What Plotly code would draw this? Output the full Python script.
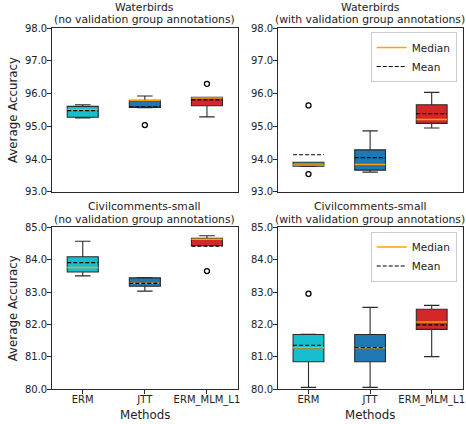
import plotly.graph_objects as go

# ---------------- data ----------------
methods = ["ERM", "JTT", "ERM_MLM_L1"]
positions = [1, 2, 3]
box_colors = ["#17becf", "#1f77b4", "#d62728"]

# Waterbirds (no validation group annotations)
wb_nv_q1 = [95.28, 95.58, 95.63]
wb_nv_med = [95.51, 95.79, 95.87]
wb_nv_q3 = [95.61, 95.80, 95.89]
wb_nv_lo = [95.26, 95.57, 95.29]
wb_nv_hi = [95.66, 95.93, 95.89]
wb_nv_mean = [95.48, 95.60, 95.81]
wb_nv_out_x = [2, 3]
wb_nv_out_y = [95.04, 96.30]

# Waterbirds (with validation group annotations)
wb_v_q1 = [93.78, 93.66, 95.09]
wb_v_med = [93.82, 93.83, 95.21]
wb_v_q3 = [93.90, 94.28, 95.66]
wb_v_lo = [93.77, 93.60, 94.95]
wb_v_hi = [93.90, 94.86, 96.04]
wb_v_mean = [94.13, 94.04, 95.39]
wb_v_out_x = [1, 1]
wb_v_out_y = [95.64, 93.54]

# Civilcomments-small (no validation group annotations)
cc_nv_q1 = [83.62, 83.18, 84.43]
cc_nv_med = [83.76, 83.27, 84.63]
cc_nv_q3 = [84.09, 83.44, 84.66]
cc_nv_lo = [83.50, 83.03, 84.43]
cc_nv_hi = [84.57, 83.45, 84.74]
cc_nv_mean = [83.91, 83.27, 84.42]
cc_nv_out_x = [3]
cc_nv_out_y = [83.65]

# Civilcomments-small (with validation group annotations)
cc_v_q1 = [80.85, 80.85, 81.85]
cc_v_med = [81.28, 81.28, 82.08]
cc_v_q3 = [81.69, 81.69, 82.47]
cc_v_lo = [80.06, 80.06, 81.01]
cc_v_hi = [81.70, 82.53, 82.59]
cc_v_mean = [81.36, 81.29, 81.99]
cc_v_out_x = [1]
cc_v_out_y = [82.95]

title_line1 = ["Waterbirds", "Waterbirds", "Civilcomments-small", "Civilcomments-small"]
title_line2 = [
    "(no validation group annotations)",
    "(with validation group annotations)",
    "(no validation group annotations)",
    "(with validation group annotations)",
]
wb_ticks = [93.0, 94.0, 95.0, 96.0, 97.0, 98.0]
cc_ticks = [80.0, 81.0, 82.0, 83.0, 84.0, 85.0]

# ---------------- figure ----------------
W, H = 466, 424
FONT = "DejaVu Sans"
TXT = "#222222"
EDGE = "#2a2a2a"
BOX_W = 0.5

panels = [
    dict(q1=wb_nv_q1, med=wb_nv_med, q3=wb_nv_q3, lo=wb_nv_lo, hi=wb_nv_hi, mean=wb_nv_mean,
         ox=wb_nv_out_x, oy=wb_nv_out_y, legend=None),
    dict(q1=wb_v_q1, med=wb_v_med, q3=wb_v_q3, lo=wb_v_lo, hi=wb_v_hi, mean=wb_v_mean,
         ox=wb_v_out_x, oy=wb_v_out_y, legend="legend"),
    dict(q1=cc_nv_q1, med=cc_nv_med, q3=cc_nv_q3, lo=cc_nv_lo, hi=cc_nv_hi, mean=cc_nv_mean,
         ox=cc_nv_out_x, oy=cc_nv_out_y, legend=None),
    dict(q1=cc_v_q1, med=cc_v_med, q3=cc_v_q3, lo=cc_v_lo, hi=cc_v_hi, mean=cc_v_mean,
         ox=cc_v_out_x, oy=cc_v_out_y, legend="legend2"),
]

# domains in paper fractions (measured in px)
xdoms = [[51.7 / W, 238.0 / W], [277.7 / W, 462.5 / W]]
ydoms = [[1 - 191.7 / H, 1 - 28.3 / H], [1 - 389.3 / H, 1 - 227.3 / H]]

fig = go.Figure()


def seg_xy(vals):
    xs, ys = [], []
    for p, v in zip(positions, vals):
        xs += [p - BOX_W / 2, p + BOX_W / 2, None]
        ys += [v, v, None]
    return xs, ys


for i, pn in enumerate(panels):
    xa = "x" if i == 0 else f"x{i+1}"
    ya = "y" if i == 0 else f"y{i+1}"
    for j, p in enumerate(positions):
        fig.add_trace(go.Box(
            x=[p], q1=[pn["q1"][j]], median=[pn["med"][j]], q3=[pn["q3"][j]],
            lowerfence=[pn["lo"][j]], upperfence=[pn["hi"][j]],
            width=BOX_W, whiskerwidth=0.5, boxpoints=False,
            fillcolor=box_colors[j], line=dict(color=EDGE, width=1.1),
            showlegend=False, hoverinfo="skip", xaxis=xa, yaxis=ya,
        ))
    mx, my = seg_xy(pn["med"])
    fig.add_trace(go.Scatter(
        x=mx, y=my, mode="lines", line=dict(color="orange", width=1.5),
        name="Median", showlegend=pn["legend"] is not None,
        legend=pn["legend"] or "legend", xaxis=xa, yaxis=ya, hoverinfo="skip",
    ))
    ex, ey = seg_xy(pn["mean"])
    fig.add_trace(go.Scatter(
        x=ex, y=ey, mode="lines", line=dict(color="black", width=1.2, dash="4px,2px"),
        name="Mean", showlegend=pn["legend"] is not None,
        legend=pn["legend"] or "legend", xaxis=xa, yaxis=ya, hoverinfo="skip",
    ))
    fig.add_trace(go.Scatter(
        x=pn["ox"], y=pn["oy"], mode="markers",
        marker=dict(symbol="circle-open", size=5, color="black", line=dict(width=1.3)),
        showlegend=False, xaxis=xa, yaxis=ya, hoverinfo="skip",
    ))

axis_common = dict(showline=True, linecolor=EDGE, linewidth=1, mirror=True,
                   showgrid=False, zeroline=False, automargin=False,
                   tickfont=dict(family=FONT, size=10, color=TXT))

layout = {}
for i in range(4):
    row, col = divmod(i, 2)
    xk = "xaxis" if i == 0 else f"xaxis{i+1}"
    yk = "yaxis" if i == 0 else f"yaxis{i+1}"
    ya = "y" if i == 0 else f"y{i+1}"
    xa = "x" if i == 0 else f"x{i+1}"
    bottom = row == 1
    layout[xk] = dict(axis_common, domain=xdoms[col], anchor=ya, range=[0.5, 3.5],
                      tickvals=positions, ticktext=methods,
                      showticklabels=bottom, ticks="outside" if bottom else "",
                      ticklen=3.5, tickcolor=EDGE, ticklabelstandoff=-3)
    yt = wb_ticks if row == 0 else cc_ticks
    layout[yk] = dict(axis_common, domain=ydoms[row], anchor=xa, range=[yt[0], yt[-1]],
                      tickvals=yt, tickformat=".1f", ticks="outside",
                      ticklen=3.5, tickcolor=EDGE, ticklabelstandoff=-2)

annotations = []
for i in range(4):
    row, col = divmod(i, 2)
    cx = (xdoms[col][0] + xdoms[col][1]) / 2
    top_px = 28.3 if row == 0 else 227.3
    for txt, off in ((title_line1[i], 20.8), (title_line2[i], 8.3)):
        annotations.append(dict(
            text=txt, xref="paper", yref="paper",
            x=cx, y=1 - (top_px - off) / H,
            xanchor="center", yanchor="middle", showarrow=False,
            font=dict(family=FONT, size=10.8, color=TXT),
        ))
for row in range(2):
    annotations.append(dict(
        text="Average Accuracy", xref="paper", yref="paper",
        x=13 / W, y=(ydoms[row][0] + ydoms[row][1]) / 2, textangle=-90,
        xanchor="center", yanchor="middle", showarrow=False,
        font=dict(family=FONT, size=11.8, color=TXT),
    ))
for col in range(2):
    annotations.append(dict(
        text="Methods", xref="paper", yref="paper",
        x=(xdoms[col][0] + xdoms[col][1]) / 2, y=1 - 414.5 / H,
        xanchor="center", yanchor="middle", showarrow=False,
        font=dict(family=FONT, size=11.8, color=TXT),
    ))

legend_style = dict(xanchor="right", yanchor="top", bgcolor="rgba(255,255,255,0.85)",
                    bordercolor="#cccccc", borderwidth=1,
                    font=dict(family=FONT, size=10.5, color=TXT),
                    tracegroupgap=0, itemwidth=30)

fig.update_layout(
    width=W, height=H,
    margin=dict(l=0, r=0, t=0, b=0),
    paper_bgcolor="white", plot_bgcolor="white",
    boxmode="overlay",
    font=dict(family=FONT, color=TXT),
    annotations=annotations,
    legend=dict(legend_style, x=456.7 / W, y=1 - 32 / H),
    legend2=dict(legend_style, x=456.7 / W, y=1 - 231.5 / H),
    **layout,
)

fig.write_html(
    "out.html",
    config={"displayModeBar": False},
    post_script="document.body.style.margin='0';document.body.style.overflow='hidden';",
)
